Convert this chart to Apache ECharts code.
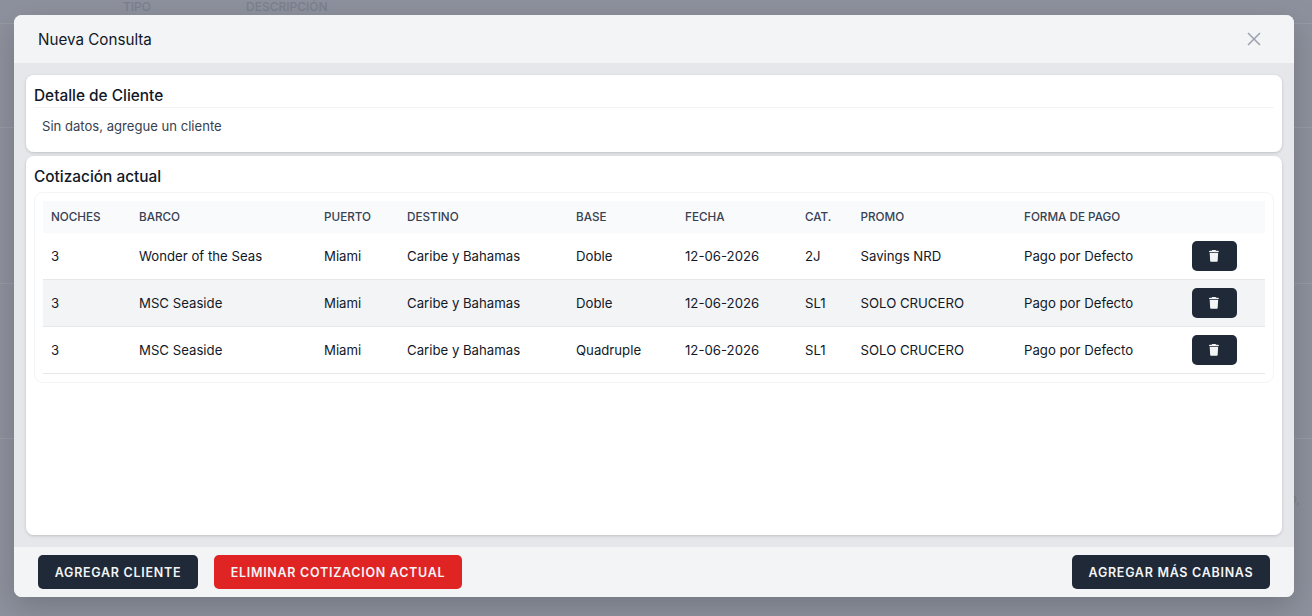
<!DOCTYPE html>
<html lang="es">
<head>
<meta charset="UTF-8">
<title>Nueva Consulta</title>
<script src="https://cdn.jsdelivr.net/npm/echarts@6/dist/echarts.min.js"></script>
<style>
  *{margin:0;padding:0;}
  body{background:#8c919d;}
  #main{width:1312px;height:616px;}
  /* los botones llevan tracking, el canvas no lo permite: por eso renderer svg */
  #main text[style*="12.5px"]{letter-spacing:0.72px;}
</style>
</head>
<body>
<div id="main"></div>
<script>
// textos de la tabla
var modalTitle = 'Nueva Consulta';
var clientTitle = 'Detalle de Cliente';
var clientEmpty = 'Sin datos, agregue un cliente';
var quoteTitle = 'Cotización actual';
var columns = ['NOCHES', 'BARCO', 'PUERTO', 'DESTINO', 'BASE', 'FECHA', 'CAT.', 'PROMO', 'FORMA DE PAGO'];
var noches = ['3', '3', '3'];
var barcos = ['Wonder of the Seas', 'MSC Seaside', 'MSC Seaside'];
var puertos = ['Miami', 'Miami', 'Miami'];
var destinos = ['Caribe y Bahamas', 'Caribe y Bahamas', 'Caribe y Bahamas'];
var bases = ['Doble', 'Doble', 'Quadruple'];
var fechas = ['12-06-2026', '12-06-2026', '12-06-2026'];
var cats = ['2J', 'SL1', 'SL1'];
var promos = ['Savings NRD', 'SOLO CRUCERO', 'SOLO CRUCERO'];
var pagos = ['Pago por Defecto', 'Pago por Defecto', 'Pago por Defecto'];
var backLabels = ['TIPO', 'DESCRIPCIÓN', 'D,'];
var btnCliente = 'AGREGAR CLIENTE';
var btnEliminar = 'ELIMINAR COTIZACION ACTUAL';
var btnCabinas = 'AGREGAR MÁS CABINAS';

// posiciones
var colX = [51, 139, 324, 407, 576, 685, 805, 860.5, 1024];
var rowTop = [233, 280, 327];
var FONT = 'Inter, "Noto Sans", sans-serif';
var DARK = '#1f2937';
var TRASH = 'M135.2 17.7L128 32H32C14.3 32 0 46.3 0 64S14.3 96 32 96H416c17.7 0 32-14.3 32-32s-14.3-32-32-32H320l-7.2-14.3C307.4 6.8 296.3 0 284.2 0H163.8c-12.1 0-23.2 6.8-28.6 17.7zM416 128H32L53.2 467c1.6 25.3 22.6 45 47.9 45H346.9c25.3 0 46.3-19.7 47.9-45L416 128z';

// el icono de papelera como forma propia
echarts.graphic.registerShape('trashIcon', echarts.graphic.extendPath(TRASH, {}));

var els = [];
function rect(x, y, w, h, fill, r, extra) {
  var st = {fill: fill};
  if (extra) { for (var k in extra) st[k] = extra[k]; }
  els.push({type: 'rect', shape: {x: x, y: y, width: w, height: h, r: r || 0}, style: st});
}
function hline(x1, x2, y, color) {
  rect(x1, y, x2 - x1, 1, color);
}
function label(s, x, y, size, weight, color, align) {
  els.push({type: 'text', style: {
    text: s, x: x, y: y, fill: color, textAlign: align || 'left', textVerticalAlign: 'middle',
    font: weight + ' ' + size + 'px ' + FONT
  }});
}
function button(x, y, w, h, fill, s) {
  rect(x, y, w, h, fill, 5);
  label(s, x + w / 2, y + h / 2, 12.5, 600, '#f3f4f6', 'center');
}

// fondo detras del modal
hline(0, 1312, 23, '#969aa5');
hline(0, 1312, 127, '#969aa5');
hline(0, 1312, 283, '#969aa5');
hline(0, 1312, 438, '#969aa5');
label(backLabels[0], 123, 6, 12, 500, '#7b808d');
label(backLabels[1], 246, 6, 12, 500, '#7b808d');
label(backLabels[2], 1288, 499, 12, 400, '#7b808d');

// modal
rect(14, 15, 1280, 582, '#e5e7eb', 8, {shadowBlur: 30, shadowColor: 'rgba(0,0,0,0.18)', shadowOffsetY: 10});
rect(14, 15, 1280, 48, '#f3f4f6', [8, 8, 0, 0]);
rect(14, 547, 1280, 50, '#f3f4f6', [0, 0, 8, 8]);
label(modalTitle, 38, 39, 15.2, 400, '#111827');
els.push({type: 'line', shape: {x1: 1248, y1: 33, x2: 1260, y2: 45}, style: {stroke: '#9ca3af', lineWidth: 1.6}});
els.push({type: 'line', shape: {x1: 1260, y1: 33, x2: 1248, y2: 45}, style: {stroke: '#9ca3af', lineWidth: 1.6}});

// tarjeta cliente
rect(26, 75, 1256, 77, '#ffffff', 8, {shadowBlur: 3, shadowColor: 'rgba(0,0,0,0.18)', shadowOffsetY: 1});
label(clientTitle, 34, 95, 15.4, 500, '#111827');
hline(34, 1274, 107, '#f3f4f6');
label(clientEmpty, 42, 126, 13.1, 400, '#374151');

// tarjeta cotizacion
rect(26, 156, 1256, 379, '#ffffff', 8, {shadowBlur: 3, shadowColor: 'rgba(0,0,0,0.18)', shadowOffsetY: 1});
label(quoteTitle, 34, 176, 15.4, 500, '#111827');
rect(34.5, 192.5, 1239, 190, '#ffffff', 8, {stroke: '#f3f4f6', lineWidth: 1});

// tabla
rect(43, 201, 1222, 32, '#f9fafb');
columns.forEach(function (c, i) {
  label(c, colX[i], 216.5, 11.7, 500, '#374151');
});
var rows = [noches, barcos, puertos, destinos, bases, fechas, cats, promos, pagos];
rowTop.forEach(function (top, r) {
  if (r === 1) rect(43, top, 1222, 46, '#f3f4f6');
  hline(43, 1265, top + 46, '#e5e7eb');
  rows.forEach(function (col, i) {
    label(col[r], colX[i], top + 23, 13.2, 400, '#111827');
  });
  rect(1192, top + 8, 45, 30, DARK, 5);
  els.push({type: 'trashIcon', x: 1209, y: top + 17, scaleX: 10 / 448, scaleY: 12 / 512, style: {fill: '#f3f4f6'}});
});

// botones
button(38, 555, 160, 34, DARK, btnCliente);
button(214, 555, 248, 34, '#e02424', btnEliminar);
button(1072, 555, 198, 34, DARK, btnCabinas);

var myChart = echarts.init(document.getElementById('main'), null, {renderer: 'svg'});
myChart.setOption({
  backgroundColor: '#8c919d',
  animation: false,
  graphic: {elements: els}
});
</script>
</body>
</html>
